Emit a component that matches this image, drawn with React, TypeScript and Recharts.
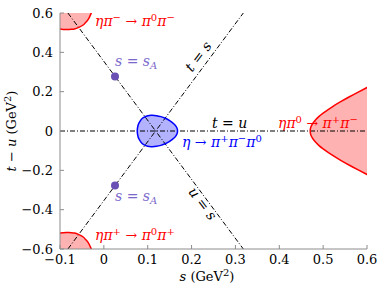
import React from "react";
import {
  ComposedChart,
  XAxis,
  YAxis,
  Area,
  Line,
  Scatter,
  ReferenceLine,
  Customized,
} from "recharts";

const sTicks = [-0.1, 0, 0.1, 0.2, 0.3, 0.4, 0.5, 0.6];
const yTicks = [-0.6, -0.4, -0.2, 0, 0.2, 0.4, 0.6];

// eta -> pi+ pi- pi0 decay region: half width in t-u at each s
const decayS = [0.0762, 0.0765, 0.078, 0.08, 0.085, 0.09, 0.1, 0.11, 0.12, 0.13, 0.14, 0.15, 0.16, 0.165, 0.1672, 0.168];
const decayHalf = [0, 0.012, 0.029, 0.04, 0.058, 0.068, 0.078, 0.08, 0.078, 0.073, 0.065, 0.053, 0.036, 0.022, 0.012, 0];

// eta pi0 -> pi+ pi- scattering region (s-channel)
const scatS = [0.4705, 0.472, 0.475, 0.48, 0.49, 0.5, 0.52, 0.54, 0.56, 0.58, 0.6, 0.62];
const scatHalf = [0, 0.02, 0.034, 0.05, 0.073, 0.091, 0.122, 0.149, 0.174, 0.198, 0.221, 0.244];

// corner regions (t- and u-channel), lower edge of |t-u|
const cornerS = [-0.117, -0.103, -0.086, -0.076, -0.067, -0.057, -0.047, -0.042, -0.036, -0.03, -0.026];
const cornerEdge = [0.526, 0.52, 0.516, 0.517, 0.519, 0.527, 0.539, 0.551, 0.566, 0.593, 0.617];

// t = s and u = s lines
const lineTS = [{ s: -0.082, y: -0.6 }, { s: 0.318, y: 0.6 }];
const lineUS = [{ s: -0.082, y: 0.6 }, { s: 0.318, y: -0.6 }];

// Adler zeros
const adlerPts = [{ s: 0.0254, y: 0.277 }, { s: 0.0254, y: -0.277 }];

const RED = "#ff0000";
const BLUE = "#0000ff";
const FONT = '"DejaVu Serif", serif';
const FS = 13;
const LFS = 14;
const FRAME = "#8c8c8c";
const DASH = "5 2 1 2";

const decayArea = decayS.map((s, i) => ({ s, r: [-decayHalf[i], decayHalf[i]] }));
const decayLoop = [
  ...decayS.map((s, i) => ({ s, y: decayHalf[i] })),
  ...decayS.slice(0, -1).reverse().map((s, i, arr) => ({ s, y: -decayHalf[arr.length - 1 - i] })),
];

const scatArea = scatS.map((s, i) => ({ s, r: [-scatHalf[i], scatHalf[i]] }));
const scatEdge = [
  ...scatS.slice().reverse().map((s, i) => ({ s, y: scatHalf[scatS.length - 1 - i] })),
  ...scatS.slice(1).map((s, i) => ({ s, y: -scatHalf[i + 1] })),
];

const topArea = cornerS.map((s, i) => ({ s, r: [cornerEdge[i], 0.7] }));
const botArea = cornerS.map((s, i) => ({ s, r: [-0.7, -cornerEdge[i]] }));
const topEdge = cornerS.map((s, i) => ({ s, y: cornerEdge[i] }));
const botEdge = cornerS.map((s, i) => ({ s, y: -cornerEdge[i] }));

const fmt = (v: number) => (v === 0 ? "0" : (v < 0 ? "\u2212" : "") + Math.abs(v).toFixed(1));

const I = { fontStyle: "italic" as const };

function Labels() {
  const sup = (t: string) => (
    <tspan dy={-5} fontSize={10}>
      {t}
    </tspan>
  );
  return (
    <g style={{ fontFamily: FONT, fontSize: LFS }}>
      <text x={95} y={26} fill={RED}>
        <tspan {...I}>ηπ</tspan>
        {sup("−")}
        <tspan dy={5}> → </tspan>
        <tspan {...I}>π</tspan>
        {sup("0")}
        <tspan dy={5} {...I}>π</tspan>
        {sup("−")}
      </text>
      <text x={95} y={240} fill={RED}>
        <tspan {...I}>ηπ</tspan>
        {sup("+")}
        <tspan dy={5}> → </tspan>
        <tspan {...I}>π</tspan>
        {sup("0")}
        <tspan dy={5} {...I}>π</tspan>
        {sup("+")}
      </text>
      <text x={278} y={128} fill={RED}>
        <tspan {...I}>ηπ</tspan>
        {sup("0")}
        <tspan dy={5}> → </tspan>
        <tspan {...I}>π</tspan>
        {sup("+")}
        <tspan dy={5} {...I}>π</tspan>
        {sup("−")}
      </text>
      <text x={182} y={147} fill={BLUE}>
        <tspan {...I}>η</tspan>
        <tspan> → </tspan>
        <tspan {...I}>π</tspan>
        {sup("+")}
        <tspan dy={5} {...I}>π</tspan>
        {sup("−")}
        <tspan dy={5} {...I}>π</tspan>
        {sup("0")}
      </text>
      <text x={212} y={128} fill="#000">
        <tspan {...I}>t</tspan>
        <tspan> = </tspan>
        <tspan {...I}>u</tspan>
      </text>
      <text x={115} y={66} fill="#7b68cc">
        <tspan {...I}>s</tspan>
        <tspan> = </tspan>
        <tspan {...I}>s</tspan>
        <tspan dy={3} fontSize={10} {...I}>A</tspan>
      </text>
      <text x={115} y={201} fill="#7b68cc">
        <tspan {...I}>s</tspan>
        <tspan> = </tspan>
        <tspan {...I}>s</tspan>
        <tspan dy={3} fontSize={10} {...I}>A</tspan>
      </text>
      <text x={199} y={61} textAnchor="middle" fill="#000" transform="rotate(-53 199 57)">
        <tspan {...I}>t</tspan>
        <tspan> = </tspan>
        <tspan {...I}>s</tspan>
      </text>
      <text x={202} y={208} textAnchor="middle" fill="#000" transform="rotate(53 202 204)">
        <tspan {...I}>u</tspan>
        <tspan> = </tspan>
        <tspan {...I}>s</tspan>
      </text>
      <text x={207} y={281} textAnchor="middle" fill="#000" fontSize={FS}>
        <tspan {...I}>s</tspan>
        <tspan> (GeV</tspan>
        {sup("2")}
        <tspan dy={5}>)</tspan>
      </text>
      <text x={16} y={131} textAnchor="middle" fill="#000" fontSize={FS} transform="rotate(-90 16 131)">
        <tspan {...I}>t</tspan>
        <tspan> − </tspan>
        <tspan {...I}>u</tspan>
        <tspan> (GeV</tspan>
        {sup("2")}
        <tspan dy={5}>)</tspan>
      </text>
    </g>
  );
}

export default function App() {
  const ax = { xAxisId: "b", yAxisId: "l" };
  const tickStyle = { fill: "#000", fontSize: FS, fontFamily: FONT };
  return (
    <div style={{ position: "absolute", left: 0, top: 0, background: "#fff", fontFamily: FONT }}>
      <ComposedChart width={388} height={289} margin={{ top: 13, right: 21, bottom: 10, left: 0 }}>
        <XAxis
          xAxisId="b"
          type="number"
          dataKey="s"
          domain={[-0.1, 0.6]}
          ticks={sTicks}
          allowDataOverflow
          height={30}
          tickSize={-4}
          tickMargin={10}
          stroke={FRAME}
          tickFormatter={fmt}
          tick={tickStyle}
        />
        <XAxis
          xAxisId="t"
          orientation="top"
          type="number"
          domain={[-0.1, 0.6]}
          ticks={sTicks}
          allowDataOverflow
          height={0}
          tickSize={-4}
          tick={false}
          stroke={FRAME}
        />
        <YAxis
          yAxisId="l"
          type="number"
          domain={[-0.6, 0.6]}
          ticks={yTicks}
          allowDataOverflow
          width={60}
          tickSize={-4}
          tickMargin={11}
          stroke={FRAME}
          tickFormatter={fmt}
          tick={tickStyle}
        />
        <YAxis
          yAxisId="r"
          orientation="right"
          type="number"
          domain={[-0.6, 0.6]}
          ticks={yTicks}
          allowDataOverflow
          width={0}
          tickSize={-4}
          tick={false}
          stroke={FRAME}
        />

        <Area {...ax} data={topArea} dataKey="r" type="natural" stroke="none" fill={RED} fillOpacity={0.3} isAnimationActive={false} />
        <Area {...ax} data={botArea} dataKey="r" type="natural" stroke="none" fill={RED} fillOpacity={0.3} isAnimationActive={false} />
        <Area {...ax} data={scatArea} dataKey="r" type="natural" stroke="none" fill={RED} fillOpacity={0.3} isAnimationActive={false} />
        <Area {...ax} data={decayArea} dataKey="r" type="natural" stroke="none" fill={BLUE} fillOpacity={0.3} isAnimationActive={false} />

        <ReferenceLine {...ax} y={0} stroke="#000" strokeWidth={1} strokeDasharray={DASH} />
        <Line {...ax} data={lineTS} dataKey="y" type="linear" stroke="#000" strokeWidth={1} strokeDasharray={DASH} dot={false} isAnimationActive={false} />
        <Line {...ax} data={lineUS} dataKey="y" type="linear" stroke="#000" strokeWidth={1} strokeDasharray={DASH} dot={false} isAnimationActive={false} />

        <Line {...ax} data={topEdge} dataKey="y" type="natural" stroke={RED} strokeWidth={1.5} dot={false} isAnimationActive={false} />
        <Line {...ax} data={botEdge} dataKey="y" type="natural" stroke={RED} strokeWidth={1.5} dot={false} isAnimationActive={false} />
        <Line {...ax} data={scatEdge} dataKey="y" type="natural" stroke={RED} strokeWidth={1.5} dot={false} isAnimationActive={false} />
        <Line {...ax} data={decayLoop} dataKey="y" type="natural" stroke={BLUE} strokeWidth={1.5} dot={false} isAnimationActive={false} />

        <Scatter
          {...ax}
          data={adlerPts}
          dataKey="y"
          isAnimationActive={false}
          shape={(p: any) => <circle cx={p.cx} cy={p.cy} r={4} fill="#6a50b4" />}
        />

        <Customized component={<Labels />} />
      </ComposedChart>
    </div>
  );
}
